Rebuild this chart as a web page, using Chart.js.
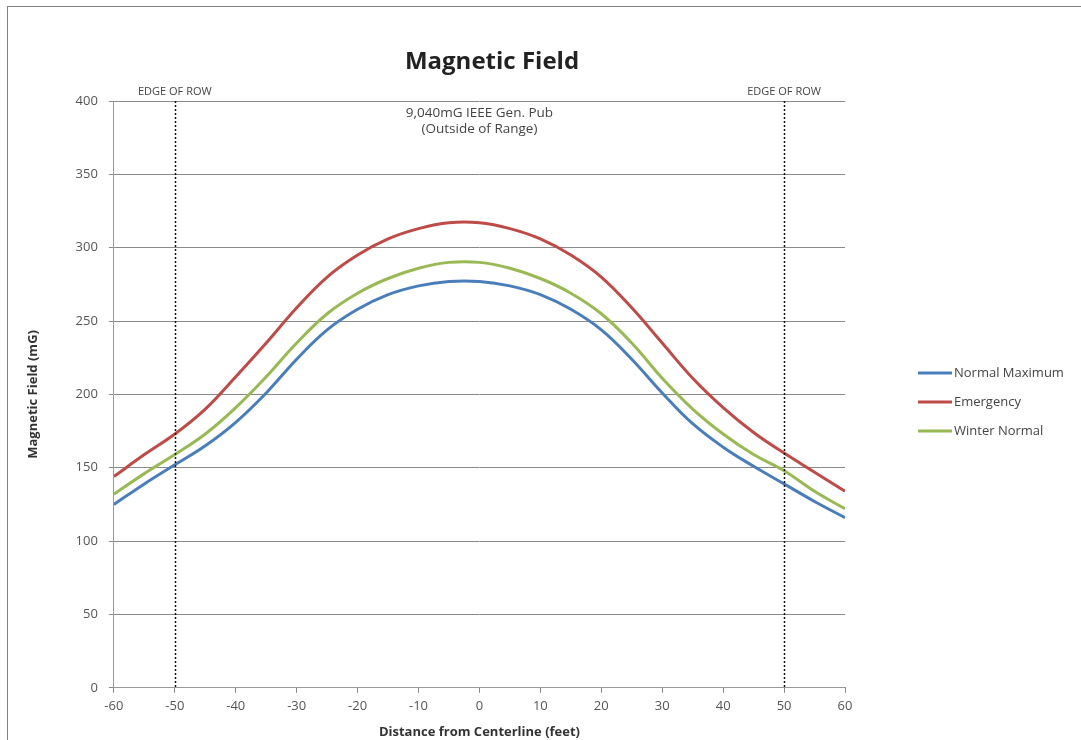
<!DOCTYPE html>
<html>
<head>
<meta charset="utf-8">
<script src="https://cdn.jsdelivr.net/npm/chart.js@4"></script>
<style>
  html, body { margin: 0; padding: 0; background: #fff; }
  #wrap { width: 1081px; height: 740px; }
</style>
</head>
<body>
<div id="wrap"><canvas id="myChart" width="1081" height="740"></canvas></div>
<script>
// Distance from centerline (feet)
const distances = [-60, -55, -50, -45, -40, -35, -30, -25, -20, -15, -10, -5, 0, 5, 10, 15, 20, 25, 30, 35, 40, 45, 50, 55, 60];

// Magnetic field (mG)
const normalMaximum = [125, 139, 152, 165, 181, 201, 224, 244, 258, 268, 274, 277, 277, 274, 268, 258, 244, 224, 201, 180, 164, 151, 139, 127, 116];
const emergency     = [144, 159, 173, 190, 212, 235, 259, 280, 295, 306, 313, 317, 317, 313, 306, 295, 280, 259, 235, 211, 191, 174, 160, 147, 134];
const winterNormal  = [132, 146, 159, 173, 191, 212, 235, 255, 269, 279, 286, 290, 290, 286, 279, 269, 255, 235, 211, 190, 173, 159, 148, 134, 122];

const seriesNames = ['Normal Maximum', 'Emergency', 'Winter Normal'];
const seriesColors = ['#4a7ebb', '#be4b48', '#98b954'];

// Edge of right-of-way markers
const rowEdges = [-50, 50];
const rowLabel = 'EDGE OF ROW';
const noteLines = ['9,040mG IEEE Gen. Pub', '(Outside of Range)'];
const chartTitle = 'Magnetic Field';

const toPoints = vals => vals.map((v, i) => ({ x: distances[i], y: v }));

const FONT = "'Open Sans', 'Liberation Sans', sans-serif";

// title, dotted ROW lines, their labels, the note and the legend
const overlay = {
  id: 'overlay',
  afterDatasetsDraw(chart) {
    const { ctx, chartArea, scales } = chart;
    ctx.save();
    ctx.strokeStyle = '#111';
    ctx.lineWidth = 1.5;
    ctx.setLineDash([2, 2]);
    rowEdges.forEach(v => {
      const x = Math.round(scales.x.getPixelForValue(v)) + 0.5;
      ctx.beginPath();
      ctx.moveTo(x, chartArea.top);
      ctx.lineTo(x, chartArea.bottom);
      ctx.stroke();
    });
    ctx.setLineDash([]);

    ctx.textAlign = 'center';
    ctx.textBaseline = 'middle';

    ctx.fillStyle = '#222';
    ctx.font = 'bold 24px ' + FONT;
    ctx.fillText(chartTitle, 492, 62);

    ctx.fillStyle = '#444';
    ctx.font = '11px ' + FONT;
    rowEdges.forEach(v => {
      ctx.fillText(rowLabel, scales.x.getPixelForValue(v), chartArea.top - 9);
    });

    ctx.font = '13.5px ' + FONT;
    const cx = scales.x.getPixelForValue(0);
    noteLines.forEach((t, i) => ctx.fillText(t, cx, chartArea.top + 12 + i * 16));

    // legend
    const lx = 918, ly = 373;
    ctx.textAlign = 'left';
    ctx.font = '13px ' + FONT;
    chart.data.datasets.forEach((ds, i) => {
      const y = ly + i * 29;
      ctx.strokeStyle = ds.borderColor;
      ctx.lineWidth = 3;
      ctx.beginPath();
      ctx.moveTo(lx, y);
      ctx.lineTo(lx + 34, y);
      ctx.stroke();
      ctx.fillStyle = '#444';
      ctx.fillText(ds.label, lx + 36, y);
    });
    ctx.restore();
  }
};

const border = {
  id: 'border',
  beforeDraw(chart) {
    const ctx = chart.ctx;
    ctx.save();
    ctx.strokeStyle = '#808080';
    ctx.lineWidth = 1;
    ctx.strokeRect(7.5, 6.5, 1200, 900);
    ctx.restore();
  }
};

const canvas = document.getElementById('myChart');
const ctx = canvas.getContext('2d');

new Chart(ctx, {
  type: 'line',
  data: {
    datasets: [
      { label: seriesNames[0], data: toPoints(normalMaximum), borderColor: seriesColors[0] },
      { label: seriesNames[1], data: toPoints(emergency), borderColor: seriesColors[1] },
      { label: seriesNames[2], data: toPoints(winterNormal), borderColor: seriesColors[2] }
    ]
  },
  options: {
    responsive: false,
    animation: false,
    elements: {
      line: { borderWidth: 3, tension: 0.4 },
      point: { radius: 0 }
    },
    layout: { padding: { top: 101, left: 25, right: 236, bottom: 0 } },
    plugins: {
      legend: { display: false },
      tooltip: { enabled: false },
      title: { display: false }
    },
    scales: {
      x: {
        type: 'linear',
        min: -60,
        max: 60,
        ticks: { stepSize: 10, color: '#555', font: { family: FONT, size: 13 }, padding: 6 },
        grid: { drawOnChartArea: false, drawTicks: true, tickLength: 5, color: '#888' },
        border: { color: '#999', width: 1 },
        title: {
          display: true,
          text: 'Distance from Centerline (feet)',
          color: '#333',
          font: { family: FONT, size: 13, weight: 'bold' },
          padding: { top: 4, bottom: 0 }
        }
      },
      y: {
        min: 0,
        max: 400,
        ticks: { stepSize: 50, color: '#555', font: { family: FONT, size: 13 }, padding: 11 },
        grid: { color: '#8a8a8a', lineWidth: 1, tickLength: 5 },
        border: { color: '#999', width: 1 },
        title: {
          display: true,
          text: 'Magnetic Field (mG)',
          color: '#333',
          font: { family: FONT, size: 13, weight: 'bold' },
          padding: { top: 0, bottom: 24 }
        }
      }
    }
  },
  plugins: [border, overlay]
});
</script>
</body>
</html>
